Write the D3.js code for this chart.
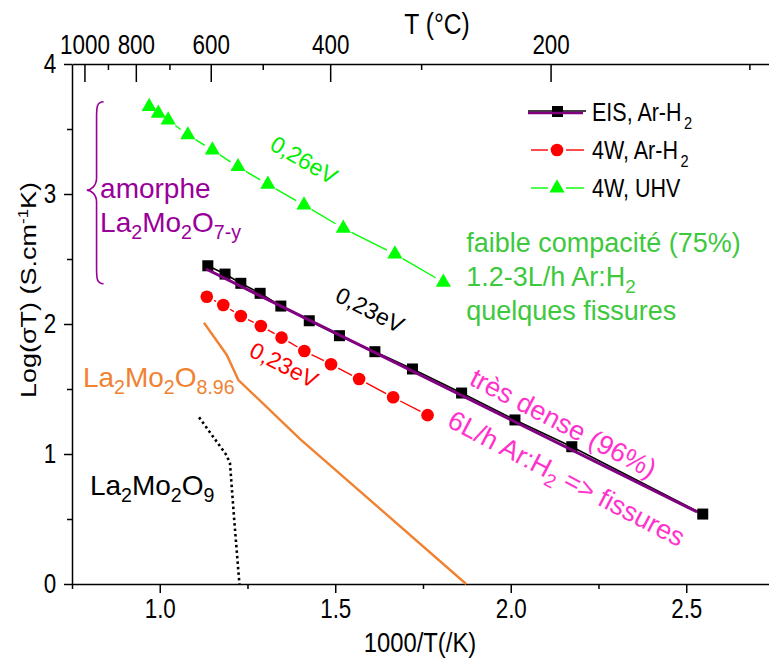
<!DOCTYPE html>
<html><head><meta charset="utf-8">
<script src="https://cdn.jsdelivr.net/npm/d3@7"></script>
<style>body{margin:0;background:#fff} svg{display:block} text{font-family:"Liberation Sans",Arial,sans-serif}</style>
</head><body><svg id="c" width="769" height="660"></svg>
<script>
// ---- data ----
const eisX=[1.137,1.186,1.231,1.286,1.345,1.426,1.512,1.613,1.720,1.860,2.012,2.174,2.547];
const eisY=[2.448,2.384,2.313,2.236,2.138,2.025,1.910,1.787,1.654,1.469,1.262,1.056,0.538];
const fitX=[1.132,2.531];
const fitY=[2.423,0.554];
const w4ArX=[1.134,1.181,1.231,1.288,1.347,1.412,1.488,1.568,1.665,1.763];
const w4ArY=[2.210,2.146,2.062,1.985,1.895,1.792,1.690,1.577,1.436,1.299];
const uhvX=[0.970,0.996,1.024,1.080,1.150,1.223,1.308,1.411,1.523,1.670,1.808];
const uhvY=[3.672,3.621,3.569,3.454,3.338,3.210,3.074,2.915,2.736,2.538,2.321];
const o896X=[1.126,1.191,1.224,1.400,1.873];
const o896Y=[2.010,1.762,1.569,1.115,0.0];
const o9X=[1.112,1.190,1.200,1.212,1.227];
const o9Y=[1.282,0.992,0.930,0.500,0.0];
const xTicks=[1.0,1.5,2.0,2.5];
const xMinor=[0.75,1.25,1.75,2.25];
const yTicks=[0,1,2,3,4];
const yMinor=[0.5,1.5,2.5,3.5];
const tTicks=[1000,800,600,400,200];
const tMinor=[900,700,500,300,100];
const legendLabels=[["EIS, Ar-H","2"],["4W, Ar-H","2"],["4W, UHV",""]];

// ---- setup ----
const svg=d3.select("#c");
const x=d3.scaleLinear().domain([0.75,2.7358]).range([72,769]);
const y=d3.scaleLinear().domain([0,4]).range([584,64]);
const tk=T=>1000/(T+273.15);
const SX=0.83;

function styleTicks(g){
  g.selectAll("path.domain").attr("stroke","#000").attr("stroke-width",1.5);
  g.selectAll(".tick line").attr("stroke","#000").attr("stroke-width",1.5);
}
// bottom axis
const gb=svg.append("g").attr("transform","translate(0,584)")
  .call(d3.axisBottom(x).tickValues(xTicks).tickFormat(d3.format(".1f")).tickSize(9).tickSizeOuter(0).tickPadding(6));
styleTicks(gb);
gb.selectAll("text").attr("font-size",27).attr("fill","#000").attr("transform",`scale(${SX},1)`);
const gbm=svg.append("g").attr("transform","translate(0,584)")
  .call(d3.axisBottom(x).tickValues(xMinor).tickFormat("").tickSize(5).tickSizeOuter(0));
styleTicks(gbm); gbm.select("path.domain").remove();
// left axis
const gl=svg.append("g").attr("transform","translate(72,0)")
  .call(d3.axisLeft(y).tickValues(yTicks).tickFormat(d3.format("d")).tickSize(8).tickSizeOuter(0).tickPadding(11));
styleTicks(gl);
gl.selectAll("text").attr("font-size",27).attr("fill","#000").attr("transform",`scale(${SX},1)`);
const glm=svg.append("g").attr("transform","translate(72,0)")
  .call(d3.axisLeft(y).tickValues(yMinor).tickFormat("").tickSize(5).tickSizeOuter(0));
styleTicks(glm); glm.select("path.domain").remove();
// top axis (T in °C)
const gt=svg.append("g").attr("transform","translate(0,64)")
  .call(d3.axisTop(x).tickValues(tTicks.map(tk)).tickFormat((d,i)=>tTicks[i]).tickSize(-18).tickSizeOuter(0).tickPadding(10));
styleTicks(gt);
gt.selectAll("text").attr("font-size",27).attr("fill","#000").attr("transform",`scale(${SX},1)`);
const gtm=svg.append("g").attr("transform","translate(0,64)")
  .call(d3.axisTop(x).tickValues(tMinor.map(tk)).tickFormat("").tickSize(-6).tickSizeOuter(0));
styleTicks(gtm); gtm.select("path.domain").remove();

// axis titles
svg.append("text").attr("transform",`translate(437,34) scale(0.85,1)`).attr("text-anchor","middle")
  .attr("font-size",29).text("T (°C)");
svg.append("text").attr("transform",`translate(420,652) scale(0.85,1)`).attr("text-anchor","middle")
  .attr("font-size",28).text("1000/T(/K)");
const yt=svg.append("text").attr("transform",`translate(28,290) rotate(-90) scale(1,0.85)`)
  .attr("text-anchor","middle").attr("dy","0.35em").attr("font-size",27);
yt.append("tspan").text("Log(σT) (S.cm");
yt.append("tspan").attr("font-size",17).attr("dy",-9).text("-1");
yt.append("tspan").attr("dy",9).text("K)");

// ---- helpers ----
function gapSegs(xs,ys,gap){
  const out=[];
  for(let i=0;i<xs.length-1;i++){
    const x1=x(xs[i]),y1=y(ys[i]),x2=x(xs[i+1]),y2=y(ys[i+1]);
    const dx=x2-x1,dy=y2-y1,L=Math.hypot(dx,dy);
    if(L>2*gap+1){const ux=dx/L,uy=dy/L;out.push([x1+ux*gap,y1+uy*gap,x2-ux*gap,y2-uy*gap]);}
  }
  return out;
}
const line=d3.line().x(d=>x(d[0])).y(d=>y(d[1]));
const zip=(a,b)=>a.map((v,i)=>[v,b[i]]);

// reference curves
svg.append("path").attr("d",line(zip(o896X,o896Y))).attr("fill","none").attr("stroke","#f08232").attr("stroke-width",2.4);
svg.append("path").attr("d",line(zip(o9X,o9Y))).attr("fill","none").attr("stroke","#000").attr("stroke-width",2.6).attr("stroke-dasharray","2.5,3");

// green UHV
svg.append("g").selectAll("line").data(gapSegs(uhvX,uhvY,9)).join("line")
  .attr("x1",d=>d[0]).attr("y1",d=>d[1]).attr("x2",d=>d[2]).attr("y2",d=>d[3])
  .attr("stroke","#00ff00").attr("stroke-width",1.4);
const tri=d3.symbol(d3.symbolTriangle,100)();
svg.append("g").selectAll("path").data(zip(uhvX,uhvY)).join("path")
  .attr("d",tri).attr("transform",d=>`translate(${x(d[0])},${y(d[1])})`).attr("fill","#00ff00");

// red 4W
svg.append("g").selectAll("line").data(gapSegs(w4ArX,w4ArY,8)).join("line")
  .attr("x1",d=>d[0]).attr("y1",d=>d[1]).attr("x2",d=>d[2]).attr("y2",d=>d[3])
  .attr("stroke","#ff0000").attr("stroke-width",1.4);
svg.append("g").selectAll("circle").data(zip(w4ArX,w4ArY)).join("circle")
  .attr("cx",d=>x(d[0])).attr("cy",d=>y(d[1])).attr("r",6.3).attr("fill","#ff0000");

// EIS
svg.append("path").attr("d",line(zip(eisX,eisY))).attr("fill","none").attr("stroke","#000").attr("stroke-width",1.6);
svg.append("g").selectAll("rect").data(zip(eisX,eisY)).join("rect")
  .attr("x",d=>x(d[0])-5.5).attr("y",d=>y(d[1])-5.5).attr("width",11).attr("height",11).attr("fill","#000");
svg.append("path").attr("d",line(zip(fitX,fitY))).attr("fill","none").attr("stroke","#800080").attr("stroke-width",3);

// ---- legend ----
const lg=svg.append("g");
const rows=[112,150,188];
rows.forEach((ry,i)=>{
  if(i===0){
    lg.append("line").attr("x1",528).attr("x2",586).attr("y1",ry-1).attr("y2",ry-1).attr("stroke","#000").attr("stroke-width",1.4);
    lg.append("rect").attr("x",552).attr("y",ry-6).attr("width",11).attr("height",11).attr("fill","#000");
    lg.append("line").attr("x1",528).attr("x2",583).attr("y1",ry+1).attr("y2",ry+1).attr("stroke","#800080").attr("stroke-width",2.5);
  } else if(i===1){
    lg.append("line").attr("x1",531).attr("x2",548).attr("y1",ry).attr("y2",ry).attr("stroke","#ff0000").attr("stroke-width",1.4);
    lg.append("line").attr("x1",566).attr("x2",584).attr("y1",ry).attr("y2",ry).attr("stroke","#ff0000").attr("stroke-width",1.4);
    lg.append("circle").attr("cx",557).attr("cy",ry).attr("r",6.3).attr("fill","#ff0000");
  } else {
    lg.append("line").attr("x1",531).attr("x2",548).attr("y1",ry).attr("y2",ry).attr("stroke","#00ff00").attr("stroke-width",1.4);
    lg.append("line").attr("x1",566).attr("x2",584).attr("y1",ry).attr("y2",ry).attr("stroke","#00ff00").attr("stroke-width",1.4);
    lg.append("path").attr("d",tri).attr("transform",`translate(557,${ry})`).attr("fill","#00ff00");
  }
  const t=lg.append("text").attr("transform",`translate(592,${ry}) scale(0.86,1)`).attr("dy","0.36em").attr("font-size",25);
  t.append("tspan").text(legendLabels[i][0]);
  if(legendLabels[i][1]) t.append("tspan").attr("font-size",17).attr("dx",3).attr("dy",8).text(legendLabels[i][1]);
});

// ---- annotations ----
function rich(parent,px,py,parts,size,color,extra){
  const t=parent.append("text").attr("x",px).attr("y",py).attr("font-size",size).attr("fill",color);
  if(extra) extra(t);
  let shifted=false;
  parts.forEach(p=>{
    const sub=typeof p!=="string";
    const s=sub?p.s:p;
    const ts=t.append("tspan").text(s);
    if(sub){ts.attr("font-size",size*0.7); if(!shifted){ts.attr("dy",size*0.25);shifted=true;}}
    else if(shifted){ts.attr("dy",-size*0.25);shifted=false;}
  });
  return t;
}
// brace
(function(){
  const xo=x(0.840),xm=x(0.820),xt=x(0.792);
  const yT=y(3.71),yM=y(3.03),yB=y(2.31);
  const p=d3.path();
  p.moveTo(xo,yT); p.bezierCurveTo(xm,yT,xm,yT+6,xm,yT+16);
  p.lineTo(xm,yM-12); p.bezierCurveTo(xm,yM-4,xt+4,yM,xt,yM);
  p.bezierCurveTo(xt+4,yM,xm,yM+4,xm,yM+12);
  p.lineTo(xm,yB-16); p.bezierCurveTo(xm,yB-6,xm,yB,xo,yB);
  svg.append("path").attr("d",p.toString()).attr("fill","none").attr("stroke","#990099").attr("stroke-width",1.6);
})();
rich(svg,x(0.830),y(2.97),["amorphe"],28,"#990099");
rich(svg,x(0.830),y(2.708),["La",{s:"2"},"Mo",{s:"2"},"O",{s:"7-y"}],28,"#990099");
rich(svg,x(0.781),y(1.515),["La",{s:"2"},"Mo",{s:"2"},"O",{s:"8.96"}],28,"#f08232");
rich(svg,x(0.801),y(0.685),["La",{s:"2"},"Mo",{s:"2"},"O",{s:"9"}],28,"#000");
// green block
const gc="#3ec83e";
rich(svg,x(1.873),y(2.554),["faible compacité (75%)"],27,gc);
rich(svg,x(1.873),y(2.292),["1.2-3L/h Ar:H",{s:"2"}],27,gc);
rich(svg,x(1.873),y(2.031),["quelques fissures"],27,gc);
// eV labels
function rot(px,py,ang,str,size,color){
  svg.append("text").attr("transform",`translate(${px},${py}) rotate(${ang})`).attr("text-anchor","middle")
    .attr("dy","0.35em").attr("font-size",size).attr("fill",color).text(str);
}
rot(x(1.411),y(3.262),30,"0,26eV",23,"#00ee00");
rot(x(1.599),y(2.108),27,"0,23eV",23,"#000");
rot(x(1.354),y(1.685),27,"0,23eV",23,"#ff0000");
// pink
const pk="#ff33cc";
rich(svg,0,0,["très dense (96%)"],27,pk,t=>t.attr("transform",`translate(${x(1.878)},${y(1.538)}) rotate(27.5)`));
rich(svg,0,0,["6L/h Ar:H",{s:"2"}," => fissures"],27,pk,t=>t.attr("transform",`translate(${x(1.815)},${y(1.215)}) rotate(27.5)`));
</script></body></html>
